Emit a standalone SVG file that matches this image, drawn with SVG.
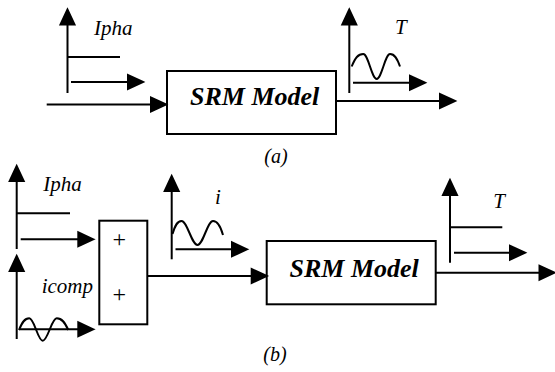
<svg xmlns="http://www.w3.org/2000/svg" xmlns:xlink="http://www.w3.org/1999/xlink" width="555" height="372" viewBox="0 0 555 372">
  <defs>
    <!-- filled arrowhead, tip at the origin, pointing along +x -->
    <path id="ah" d="M0,0 L-15,-7 L-15,7 z" fill="#000"/>
  </defs>

  <rect width="555" height="372" fill="#fff"/>

  <!-- (a) open-loop model -->
  <g id="a-ipha-plot" stroke="#000" stroke-width="2" fill="none">
    <line x1="67.5" y1="93" x2="67.5" y2="12.5"/>
    <use xlink:href="#ah" transform="translate(67.5,9.5) rotate(-90)"/>
    <line x1="67.5" y1="57" x2="120" y2="57"/>
    <line x1="71" y1="82" x2="140" y2="82"/>
    <use xlink:href="#ah" transform="translate(143,82)"/>
    <text x="94" y="35" stroke="none" fill="#000" font-family="'Liberation Serif', serif" font-style="italic" font-size="21">Ipha</text>
  </g>
  <g id="a-srm">
    <rect x="167" y="71" width="169" height="63" fill="#fff" stroke="#000" stroke-width="2"/>
    <text x="190" y="105" fill="#000" font-family="'Liberation Serif', serif" font-style="italic" font-weight="bold" font-size="26">SRM Model</text>
  </g>
  <g id="a-torque-plot" stroke="#000" stroke-width="2" fill="none">
    <line x1="349.3" y1="93" x2="349.3" y2="12.5"/>
    <use xlink:href="#ah" transform="translate(349.3,9.5) rotate(-90)"/>
    <path d="M351.7,66.5 C355.2,57.8 358.1,54 363.3,54 C368.2,54 371.8,79 376.7,79 C381.5,79 385.2,54 390,54 C394.5,54 397,57.8 400,66.5"/>
    <line x1="353" y1="82.7" x2="422" y2="82.7"/>
    <use xlink:href="#ah" transform="translate(425,82.7)"/>
    <text x="395" y="34.3" stroke="none" fill="#000" font-family="'Liberation Serif', serif" font-style="italic" font-size="21">T</text>
  </g>
  <g id="a-connectors" stroke="#000" stroke-width="2" fill="none">
    <line x1="46.7" y1="104.5" x2="163" y2="104.5"/>
    <use xlink:href="#ah" transform="translate(166,104.5)"/>
    <line x1="336" y1="101" x2="452" y2="101"/>
    <use xlink:href="#ah" transform="translate(455,101)"/>
  </g>
  <text x="264.3" y="163" fill="#000" font-family="'Liberation Serif', serif" font-style="italic" font-size="20">(a)</text>

  <!-- (b) model with compensation current -->
  <g id="b-ipha-plot" stroke="#000" stroke-width="2" fill="none">
    <line x1="16.7" y1="249" x2="16.7" y2="169"/>
    <use xlink:href="#ah" transform="translate(16.7,166) rotate(-90)"/>
    <line x1="16.7" y1="213.3" x2="70" y2="213.3"/>
    <line x1="20.7" y1="239.3" x2="90.3" y2="239.3"/>
    <use xlink:href="#ah" transform="translate(93.3,239.3)"/>
    <text x="43.3" y="190.7" stroke="none" fill="#000" font-family="'Liberation Serif', serif" font-style="italic" font-size="21">Ipha</text>
  </g>
  <g id="b-icomp-plot" stroke="#000" stroke-width="2" fill="none">
    <line x1="16.7" y1="339" x2="16.7" y2="259"/>
    <use xlink:href="#ah" transform="translate(16.7,256) rotate(-90)"/>
    <path d="M19,330 C22.1,322.2 24.7,318.3 29.3,318.3 C34.2,318.3 37.8,340.7 42.7,340.7 C47.8,340.7 51.6,318.3 56.7,318.3 C61.9,318.3 64.8,322.2 68.3,330"/>
    <line x1="19" y1="329.3" x2="90.3" y2="329.3"/>
    <use xlink:href="#ah" transform="translate(93.3,329.3)"/>
    <text x="41.7" y="293.3" stroke="none" fill="#000" font-family="'Liberation Serif', serif" font-style="italic" font-size="21">icomp</text>
  </g>
  <g id="b-sum">
    <rect x="99.3" y="220.7" width="48" height="103.6" fill="#fff" stroke="#000" stroke-width="2"/>
    <text x="119.3" y="246.7" fill="#000" font-family="'Liberation Serif', serif" font-size="24" text-anchor="middle">+</text>
    <text x="119.3" y="302" fill="#000" font-family="'Liberation Serif', serif" font-size="24" text-anchor="middle">+</text>
  </g>
  <g id="b-i-plot" stroke="#000" stroke-width="2" fill="none">
    <line x1="171.7" y1="259.3" x2="171.7" y2="179"/>
    <use xlink:href="#ah" transform="translate(171.7,176) rotate(-90)"/>
    <path d="M172.5,234 C175.2,225 177.4,221 181.5,221 C187.3,221 191.7,245 197.5,245 C203.1,245 207.4,221 213,221 C217.5,221 220.5,226 223,235"/>
    <line x1="175.5" y1="249.3" x2="244" y2="249.3"/>
    <use xlink:href="#ah" transform="translate(247,249.3)"/>
    <text x="215" y="204.3" stroke="none" fill="#000" font-family="'Liberation Serif', serif" font-style="italic" font-size="21">i</text>
  </g>
  <g id="b-srm">
    <rect x="266.7" y="241" width="169" height="63.3" fill="#fff" stroke="#000" stroke-width="2"/>
    <text x="289.5" y="277.3" fill="#000" font-family="'Liberation Serif', serif" font-style="italic" font-weight="bold" font-size="26">SRM Model</text>
  </g>
  <g id="b-torque-plot" stroke="#000" stroke-width="2" fill="none">
    <line x1="450" y1="262.7" x2="450" y2="183"/>
    <use xlink:href="#ah" transform="translate(450,180) rotate(-90)"/>
    <line x1="450" y1="227.3" x2="502.3" y2="227.3"/>
    <line x1="454" y1="252.7" x2="522" y2="252.7"/>
    <use xlink:href="#ah" transform="translate(525,252.7)"/>
    <text x="493.3" y="207.7" stroke="none" fill="#000" font-family="'Liberation Serif', serif" font-style="italic" font-size="21">T</text>
  </g>
  <g id="b-connectors" stroke="#000" stroke-width="2" fill="none">
    <line x1="147.3" y1="276" x2="263.7" y2="276"/>
    <use xlink:href="#ah" transform="translate(266.7,276)"/>
    <line x1="435.7" y1="272.7" x2="551.5" y2="272.7"/>
    <use xlink:href="#ah" transform="translate(554.5,272.7)"/>
  </g>
  <text x="263.3" y="361" fill="#000" font-family="'Liberation Serif', serif" font-style="italic" font-size="20">(b)</text>
</svg>
